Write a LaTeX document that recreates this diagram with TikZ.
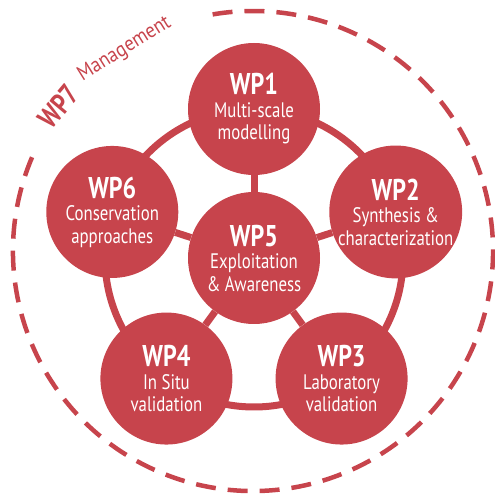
\documentclass[tikz,border=0pt]{standalone}
\usepackage{fontspec}
\setmainfont{PT Sans}[FakeStretch=0.8]
\newfontfamily\widefont{PT Sans}[FakeStretch=0.9]
\usepackage{xcolor}
\usepackage{tikz}
\usetikzlibrary{calc,backgrounds}
\definecolor{wpred}{RGB}{199,68,76}
\newcommand{\wphead}[1]{{\fontsize{30}{30}\selectfont\bfseries #1}}

\begin{document}
\begin{tikzpicture}[x=1pt,y=1pt,
  wp/.style={circle,fill=wpred,minimum size=132pt,inner sep=0pt,align=center,text=white,font=\fontsize{21}{22.5}\selectfont},
  link/.style={draw=wpred,line width=7pt},
  mgmt/.style={text=wpred,anchor=base,inner sep=0pt}]
\useasboundingbox (0,0) rectangle (495,496);
\coordinate (ctr) at (254,238);
\coordinate (outer) at (253,245);

\node[wp] (wp5) at (ctr) {\wphead{WP5}\\Exploitation\\\& Awareness};
\node[wp] (wp1) at ($(ctr)+(90:149)$) {\wphead{WP1}\\Multi-scale\\modelling};
\node[wp] (wp2) at ($(ctr)+(18:149)$) {\wphead{WP2}\\Synthesis \&\\characterization};
\node[wp] (wp3) at ($(ctr)+(-54:149)$) {\wphead{WP3}\\Laboratory\\validation};
\node[wp] (wp4) at ($(ctr)+(-126:149)$) {\wphead{WP4}\\In Situ\\validation};
\node[wp] (wp6) at ($(ctr)+(162:149)$) {\wphead{WP6}\\Conservation\\approaches};

\begin{scope}[on background layer]
\draw[link] (ctr) circle (149);
\foreach \n in {wp1,wp2,wp3,wp4,wp6}
  \draw[link] (wp5) -- (\n);
\end{scope}

\draw[wpred,line width=4.5pt,dash pattern=on 20pt off 12pt] (outer) ++(157:240) arc[start angle=157,end angle=461,radius=240];
\node[mgmt,rotate=50,font=\fontsize{29}{29}\selectfont\bfseries] (wp7) at ($(outer)+(143.5:232)$) {WP7};
\node[mgmt,rotate=32,font=\widefont\fontsize{21}{21}\selectfont] (mgmt) at ($(outer)+(122.5:234)$) {Management};
\end{tikzpicture}
\end{document}
